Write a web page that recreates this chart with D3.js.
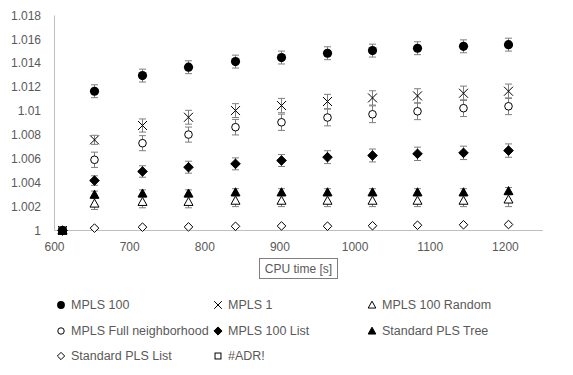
<!DOCTYPE html>
<head>
  <meta charset="utf-8">
  <script src="https://d3js.org/d3.v7.min.js"></script>
  <style>
    body { margin:0; background:white; }
    text { font-family: 'Liberation Sans', sans-serif; fill: #595959; }
  </style>
</head>
<body>
<script>
  // cpu time (s) for each run
  const cpuTime = [610, 653, 716, 778, 840, 901, 962, 1022, 1083, 1143, 1204];

  const mpls100      = [1, 1.01166, 1.01297, 1.01367, 1.01414, 1.01448, 1.01484, 1.01506, 1.01526, 1.01542, 1.01556];
  const mpls100Err   = [0, 0.00054, 0.00054, 0.00054, 0.00054, 0.00054, 0.00054, 0.00054, 0.00054, 0.00054, 0.00054];
  const mpls1        = [1, 1.00759, 1.00879, 1.00948, 1.01004, 1.01046, 1.0108, 1.0111, 1.01127, 1.01149, 1.01166];
  const mpls1Err     = [0, 0.00038, 0.00055, 0.00058, 0.00058, 0.0006, 0.0006, 0.0006, 0.0006, 0.0006, 0.0006];
  const mplsRandom   = [1, 1.00226, 1.0024, 1.0024, 1.0025, 1.0025, 1.0025, 1.0025, 1.0025, 1.0025, 1.0026];
  const mplsRandomErr= [0, 0.0005, 0.0005, 0.0005, 0.0005, 0.0005, 0.0005, 0.0005, 0.0005, 0.0005, 0.0006];
  const mplsFull     = [1, 1.00592, 1.00731, 1.00803, 1.00865, 1.00906, 1.00946, 1.00973, 1.00998, 1.01024, 1.0104];
  const mplsFullErr  = [0, 0.00064, 0.00063, 0.00063, 0.00065, 0.00068, 0.0007, 0.0007, 0.0007, 0.0007, 0.0007];
  const mplsList     = [1, 1.00418, 1.00494, 1.0053, 1.00558, 1.00586, 1.00614, 1.00628, 1.00642, 1.0065, 1.00669];
  const mplsListErr  = [0, 0.0004, 0.00048, 0.0005, 0.0005, 0.0005, 0.00054, 0.00054, 0.00056, 0.00056, 0.00056];
  const plsTree      = [1, 1.003, 1.0031, 1.0031, 1.0032, 1.0032, 1.0032, 1.0032, 1.0032, 1.0032, 1.0033];
  const plsTreeErr   = [0, 0.0003, 0.0003, 0.0003, 0.0003, 0.0003, 0.0003, 0.0003, 0.0003, 0.0003, 0.0003];
  const plsList      = [1, 1.0002, 1.00028, 1.0003, 1.00035, 1.00038, 1.00036, 1.0004, 1.00044, 1.00048, 1.0005];
  const plsListErr   = [0, 0.0001, 0.0001, 0.0001, 0.0001, 0.0001, 0.0001, 0.0001, 0.0001, 0.0001, 0.0001];
  const adr          = [1];
  const adrErr       = [0];

  const yTicks = [1, 1.002, 1.004, 1.006, 1.008, 1.01, 1.012, 1.014, 1.016, 1.018];
  const xTicks = [600, 700, 800, 900, 1000, 1100, 1200];

  const series = [
    {name: 'MPLS 100', vals: mpls100, err: mpls100Err, sym: 'circleFill'},
    {name: 'MPLS 1', vals: mpls1, err: mpls1Err, sym: 'cross'},
    {name: 'MPLS 100 Random', vals: mplsRandom, err: mplsRandomErr, sym: 'triOpen'},
    {name: 'MPLS Full neighborhood', vals: mplsFull, err: mplsFullErr, sym: 'circleOpen'},
    {name: 'MPLS 100 List', vals: mplsList, err: mplsListErr, sym: 'diamondFill'},
    {name: 'Standard PLS Tree', vals: plsTree, err: plsTreeErr, sym: 'triFill'},
    {name: 'Standard PLS List', vals: plsList, err: plsListErr, sym: 'diamondOpen'},
    {name: '#ADR!', vals: adr, err: adrErr, sym: 'square'}
  ];
  // open markers go underneath the filled ones
  const drawOrder = ['square', 'diamondOpen', 'circleOpen', 'triOpen', 'cross', 'diamondFill', 'triFill', 'circleFill'];

  const W = 573, H = 375;
  const svg = d3.select('body').append('svg').attr('width', W).attr('height', H);

  const x = d3.scaleLinear().domain([600, 1250]).range([54.5, 543]);
  const y = d3.scaleLinear().domain([1, 1.018]).range([230.5, 15.5]);

  // axes lines
  svg.append('line').attr('x1', x(600)).attr('x2', x(1250)).attr('y1', y(1)).attr('y2', y(1))
    .style('stroke', '#bfbfbf').style('stroke-width', 1);
  svg.append('line').attr('x1', x(600)).attr('x2', x(600)).attr('y1', y(1)).attr('y2', y(1.018))
    .style('stroke', '#bfbfbf').style('stroke-width', 1);

  svg.append('g').selectAll('text').data(yTicks).enter().append('text')
    .attr('x', 41).attr('y', d => y(d)).attr('dy', '0.35em')
    .attr('text-anchor', 'end').style('font-size', '12px')
    .text(d => d3.format('')(+d.toFixed(3)));

  svg.append('g').selectAll('text').data(xTicks).enter().append('text')
    .attr('x', d => x(d)).attr('y', 251)
    .attr('text-anchor', 'middle').style('font-size', '12px')
    .text(d => d);

  // axis title in a box
  svg.append('rect').attr('x', 259.5).attr('y', 258.5).attr('width', 78).attr('height', 20)
    .style('fill', 'white').style('stroke', '#7f7f7f');
  svg.append('text').attr('x', 298.5).attr('y', 273).attr('text-anchor', 'middle')
    .style('font-size', '12px').text('CPU time [s]');

  function marker(g, sym, s) {
    const k = s || 1;
    if (sym === 'circleFill') {
      g.append('circle').attr('r', 4.6 * k).style('fill', 'black');
    } else if (sym === 'circleOpen') {
      g.append('circle').attr('r', 3.8 * k).style('fill', 'white').style('stroke', 'black');
    } else if (sym === 'cross') {
      const r = 4.5 * k;
      g.append('path').attr('d', `M${-r},${-r}L${r},${r}M${-r},${r}L${r},${-r}`)
        .style('stroke', 'black').style('stroke-width', 1).style('fill', 'none');
    } else if (sym === 'diamondFill' || sym === 'diamondOpen') {
      const r = (sym === 'diamondFill' ? 4.8 : 4.3) * k;
      g.append('path').attr('d', `M0,${-r}L${r},0L0,${r}L${-r},0Z`)
        .style('fill', sym === 'diamondFill' ? 'black' : 'white').style('stroke', 'black');
    } else if (sym === 'triFill' || sym === 'triOpen') {
      const r = 4.5 * k;
      g.append('path').attr('d', `M0,${-r}L${r},${r * 0.8}L${-r},${r * 0.8}Z`)
        .style('fill', sym === 'triFill' ? 'black' : 'white').style('stroke', 'black');
    } else if (sym === 'square') {
      const r = 3.5 * k;
      g.append('rect').attr('x', -r).attr('y', -r).attr('width', 2 * r).attr('height', 2 * r)
        .style('fill', 'white').style('stroke', 'black');
    }
  }

  const plot = svg.append('g');
  const sorted = series.slice().sort((a, b) => drawOrder.indexOf(a.sym) - drawOrder.indexOf(b.sym));
  sorted.forEach(s => {
    const pts = s.vals.map((v, i) => ({x: cpuTime[i], v: v, e: s.err[i]}));
    const grp = plot.append('g');
    // error bars
    pts.filter(p => p.e > 0).forEach(p => {
      const px = Math.round(x(p.x)) + 0.5;
      const eb = grp.append('g').style('stroke', '#7f7f7f').style('stroke-width', 1);
      eb.append('line').attr('x1', px).attr('x2', px).attr('y1', y(p.v - p.e)).attr('y2', y(p.v + p.e));
      [p.v - p.e, p.v + p.e].forEach(t => {
        eb.append('line').attr('x1', px - 3.5).attr('x2', px + 3.5).attr('y1', y(t)).attr('y2', y(t));
      });
    });
    pts.forEach(p => {
      const m = grp.append('g').attr('transform', `translate(${Math.round(x(p.x)) + 0.5},${y(p.v)})`);
      marker(m, s.sym);
    });
  });

  // legend
  const legCols = [61, 218, 372];
  const legRows = [305, 331, 356];
  series.forEach((s, i) => {
    const lx = legCols[i % 3], ly = legRows[Math.floor(i / 3)];
    const g = svg.append('g').attr('transform', `translate(${lx},${ly})`);
    marker(g, s.sym, 0.85);
    g.append('text').attr('x', 10).attr('dy', '0.35em').style('font-size', '12.5px').text(s.name);
  });
</script>
</body>
